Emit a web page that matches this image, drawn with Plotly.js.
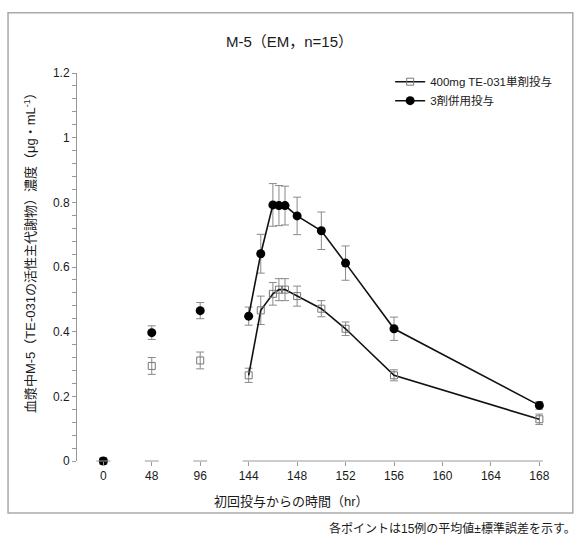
<!DOCTYPE html>
<html>
<head>
<meta charset="utf-8">
<script src="https://cdn.plot.ly/plotly-3.0.1.min.js"></script>
<style>html,body{margin:0;padding:0;background:#fff;}#chart{width:579px;height:538px;}</style>
</head>
<body>
<div id="chart"></div>
<script>
// Data (hours after first dose)
const hours = [0, 48, 96, 144, 145, 146, 146.5, 147, 148, 150, 152, 156, 168];
const singleMean = [0, 0.294, 0.311, 0.265, 0.466, 0.517, 0.530, 0.530, 0.510, 0.471, 0.409, 0.265, 0.129];
const singleSE   = [0, 0.026, 0.026, 0.022, 0.044, 0.035, 0.034, 0.034, 0.031, 0.025, 0.021, 0.017, 0.016];
const comboMean  = [0, 0.397, 0.465, 0.448, 0.641, 0.792, 0.790, 0.790, 0.758, 0.712, 0.612, 0.409, 0.172];
const comboSE    = [0, 0.021, 0.025, 0.028, 0.060, 0.066, 0.062, 0.060, 0.058, 0.058, 0.053, 0.036, 0.012];
const tickHours  = [0, 48, 96, 144, 148, 152, 156, 160, 164, 168];
const tickLabels = ['0', '48', '96', '144', '148', '152', '156', '160', '164', '168'];
const seriesNames = ['400mg TE-031単剤投与', '3剤併用投与'];

// broken time axis: 48 h per unit up to 144 h, 4 h per unit afterwards
function pos(h) { return h <= 144 ? h / 48 : 3 + (h - 144) / 4; }

const FONT = 'Liberation Sans, Arial, Noto Sans CJK JP, sans-serif';
const TXT = '#1a1a1a';
const ERR = {type: 'data', visible: true, color: '#8a8a8a', thickness: 1, width: 4};

function split(arr, a, b) { return arr.slice(a, b); }
const nPre = 3;

const traces = [];
// single-drug series
traces.push({
  x: split(hours, 0, nPre).map(pos), y: split(singleMean, 0, nPre),
  error_y: Object.assign({array: split(singleSE, 0, nPre)}, ERR),
  mode: 'markers', showlegend: false, cliponaxis: false,
  marker: {symbol: 'square-open', size: 7, color: '#777', line: {width: 1, color: '#777'}}
});
traces.push({
  x: split(hours, nPre).map(pos), y: split(singleMean, nPre),
  error_y: Object.assign({array: split(singleSE, nPre)}, ERR),
  mode: 'lines+markers', name: seriesNames[0], cliponaxis: false,
  line: {color: '#111', width: 1.6},
  marker: {symbol: 'square-open', size: 7, color: '#777', line: {width: 1, color: '#777'}}
});
// combination series
traces.push({
  x: split(hours, 0, nPre).map(pos), y: split(comboMean, 0, nPre),
  error_y: Object.assign({array: split(comboSE, 0, nPre)}, ERR),
  mode: 'markers', showlegend: false, cliponaxis: false,
  marker: {symbol: 'circle', size: 9, color: '#000'}
});
traces.push({
  x: split(hours, nPre).map(pos), y: split(comboMean, nPre),
  error_y: Object.assign({array: split(comboSE, nPre)}, ERR),
  mode: 'lines+markers', name: seriesNames[1], cliponaxis: false,
  line: {color: '#111', width: 1.6},
  marker: {symbol: 'circle', size: 9, color: '#000'}
});

// x-axis line segments (broken axis)
const shapes = [];
[0, 48, 96].forEach(h => {
  shapes.push({type: 'line', xref: 'x', yref: 'paper', xsizemode: 'pixel', xanchor: pos(h),
    x0: -7, x1: 7, y0: 0, y1: 0, line: {color: '#999', width: 1}});
});
shapes.push({type: 'line', xref: 'x', yref: 'paper', x0: pos(144) - 0.125, x1: pos(168) + 0.07,
  y0: 0, y1: 0, line: {color: '#999', width: 1}});
// outer frame
shapes.push({type: 'rect', xref: 'paper', yref: 'paper', x0: -0.148, x1: 1.064, y0: -0.134, y1: 1.155,
  line: {color: '#aaa', width: 1.5}, fillcolor: 'rgba(0,0,0,0)', layer: 'below'});

const layout = {
  width: 579, height: 538,
  margin: {l: 77, r: 36, t: 73, b: 77},
  paper_bgcolor: '#fff', plot_bgcolor: '#fff',
  font: {family: FONT, size: 12, color: TXT},
  title: {text: 'M-5（EM，n=15）', x: 0.5, xref: 'container', y: 0.922, yref: 'container',
    yanchor: 'middle', font: {size: 15, family: FONT, color: TXT}},
  showlegend: true,
  legend: {x: 0.672, y: 1.015, xanchor: 'left', yanchor: 'top', bgcolor: 'rgba(0,0,0,0)',
    font: {size: 11.5, family: FONT, color: TXT}, tracegroupgap: 0, itemwidth: 30},
  xaxis: {
    range: [-0.543, 9.075], showgrid: false, zeroline: false, showline: false,
    tickmode: 'array', tickvals: tickHours.map(pos), ticktext: tickLabels,
    ticks: 'outside', ticklen: 4, tickcolor: '#999', tickwidth: 1,
    tickfont: {size: 12, family: FONT, color: TXT}
  },
  yaxis: {
    range: [0, 1.2], showgrid: false, zeroline: false, showline: true, linecolor: '#999', linewidth: 1,
    tickmode: 'linear', tick0: 0, dtick: 0.2,
    ticks: 'outside', ticklen: 4, tickcolor: '#999', tickwidth: 1,
    minor: {dtick: 0.04, ticks: 'outside', ticklen: 4, tickcolor: '#999', tickwidth: 1, showgrid: false},
    tickfont: {size: 12, family: FONT, color: TXT}
  },
  shapes: shapes,
  annotations: [
    {text: '血漿中M-5（TE-031の活性主代謝物）濃度（μg・mL<sup>-1</sup>）', textangle: -90,
     xref: 'paper', yref: 'paper', x: -0.101, y: 0.546, xanchor: 'center', yanchor: 'middle',
     showarrow: false, font: {size: 13, family: FONT, color: TXT}},
    {text: '初回投与からの時間（hr）', xref: 'paper', yref: 'paper', x: 0.461, y: -0.105,
     xanchor: 'center', yanchor: 'middle', showarrow: false, font: {size: 13, family: FONT, color: TXT}},
    {text: '各ポイントは15例の平均値±標準誤差を示す。', xref: 'paper', yref: 'paper', x: 1.075, y: -0.175,
     xanchor: 'right', yanchor: 'middle', showarrow: false, font: {size: 12, family: FONT, color: TXT}}
  ]
};

Plotly.newPlot('chart', traces, layout, {displayModeBar: false, responsive: false});
</script>
</body>
</html>
